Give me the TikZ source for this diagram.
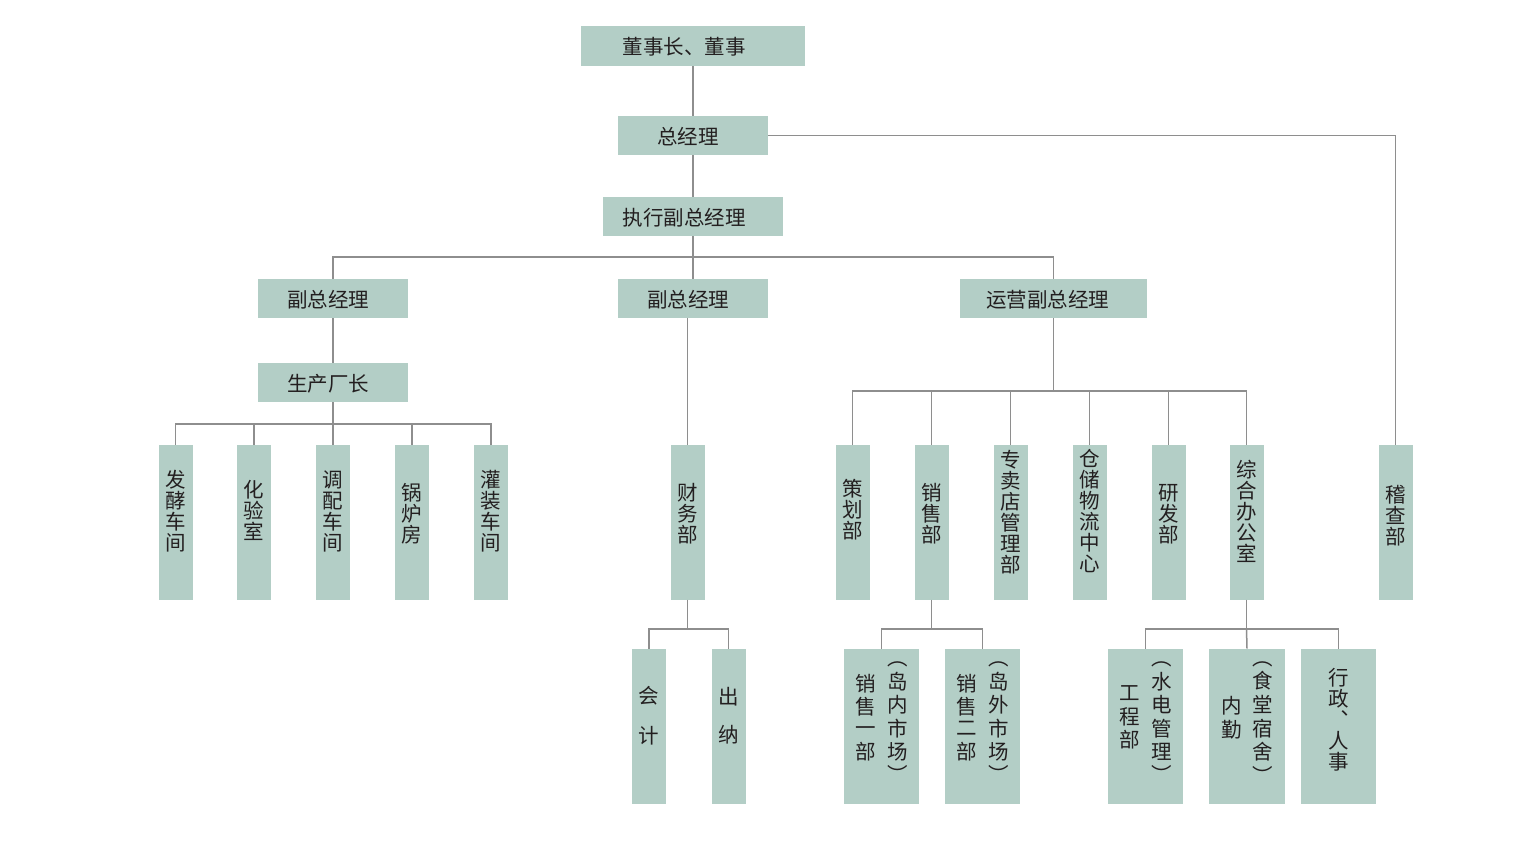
\documentclass[tikz,border=0pt]{standalone}
\usepackage{fontspec}
\newfontfamily\cjk{Noto Sans CJK SC}
\usetikzlibrary{calc}
\definecolor{boxc}{HTML}{B3CEC6}
\definecolor{linec}{HTML}{8E8E8E}
\definecolor{txtc}{HTML}{231F20}
\newcommand\vcolumn[1]{\begin{tabular}{@{}c@{}}#1\end{tabular}}
\begin{document}
\begin{tikzpicture}[x=1pt,y=-1pt,
  box/.style={fill=boxc,draw=none,inner sep=0pt,outer sep=0pt},
  hb/.style={box,minimum width=150pt,minimum height=39pt},
  vb/.style={box,minimum width=34pt,minimum height=155pt},
  wb/.style={box,minimum width=75pt,minimum height=155pt},
  lbl/.style={font=\cjk\fontsize{20.5}{21}\selectfont,text=txtc,inner sep=0pt,align=center},
  conn/.style={draw=linec,line width=1.5pt}]
\useasboundingbox[fill=white] (0,0) rectangle (1526,857);
% top boxes
\node[box,minimum width=224pt,minimum height=40pt] (ds) at (693,46) {};
\node[hb] (zjl) at (693,135.5) {};
\node[hb,minimum width=180pt] (zx) at (693,216.5) {};
\node[hb] (fz1) at (333,298.5) {};
\node[hb] (fz2) at (693,298.5) {};
\node[hb,minimum width=187pt] (yy) at (1053.5,298.5) {};
\node[hb] (sc) at (333,382.5) {};
% row 1
\node[vb] (fj) at (175.5,522) {};
\node[vb] (hy) at (254,522) {};
\node[vb] (tp) at (333,522) {};
\node[vb] (gl) at (412,522) {};
\node[vb] (gz) at (491,522) {};
\node[vb] (cw) at (687.5,522) {};
\node[vb] (ch) at (852.5,522) {};
\node[vb] (xs) at (931.5,522) {};
\node[vb] (zm) at (1010.5,522) {};
\node[vb] (cc) at (1089.5,522) {};
\node[vb] (yf) at (1168.5,522) {};
\node[vb] (zh) at (1246.5,522) {};
\node[vb] (jc) at (1395.5,522) {};
% row 2
\node[vb] (kj) at (649,726) {};
\node[vb] (cn) at (728.5,726) {};
\node[wb] (xs1) at (881.5,726) {};
\node[wb] (xs2) at (982.5,726) {};
\node[wb] (gc) at (1145.5,726) {};
\node[wb,minimum width=76pt] (nq) at (1247,726) {};
\node[wb] (xz) at (1338.5,726) {};
% labels
\node[lbl] (t-ds) at ($(ds.center)+(-9,1)$) {董事长、董事};
\node[lbl] (t-zjl) at ($(zjl.center)+(-5,1)$) {总经理};
\node[lbl] (t-zx) at ($(zx.center)+(-9,1)$) {执行副总经理};
\node[lbl] (t-fz1) at ($(fz1.center)+(-5,1)$) {副总经理};
\node[lbl] (t-fz2) at ($(fz2.center)+(-5,1)$) {副总经理};
\node[lbl] (t-yy) at ($(yy.center)+(-6,1)$) {运营副总经理};
\node[lbl] (t-sc) at ($(sc.center)+(-5,1)$) {生产厂长};
\node[lbl] (t-fj) at ($(fj.center)+(0,-11)$) {发\\酵\\车\\间};
\node[lbl] (t-hy) at ($(hy.center)+(0,-12)$) {化\\验\\室};
\node[lbl] (t-tp) at ($(tp.center)+(0,-11)$) {调\\配\\车\\间};
\node[lbl] (t-gl) at ($(gl.center)+(0,-8)$) {锅\\炉\\房};
\node[lbl] (t-gz) at ($(gz.center)+(0,-11)$) {灌\\装\\车\\间};
\node[lbl] (t-cw) at ($(cw.center)+(0,-8)$) {财\\务\\部};
\node[lbl] (t-ch) at ($(ch.center)+(0,-12)$) {策\\划\\部};
\node[lbl] (t-xs) at ($(xs.center)+(0,-8)$) {销\\售\\部};
\node[lbl] (t-zm) at ($(zm.center)+(0,-10)$) {专\\卖\\店\\管\\理\\部};
\node[lbl] (t-cc) at ($(cc.center)+(0,-11)$) {仓\\储\\物\\流\\中\\心};
\node[lbl] (t-yf) at ($(yf.center)+(0,-8)$) {研\\发\\部};
\node[lbl] (t-zh) at ($(zh.center)+(0,-11)$) {综\\合\\办\\公\\室};
\node[lbl] (t-jc) at ($(jc.center)+(0,-6)$) {稽\\查\\部};
\node[lbl] (t-kj) at ($(kj.center)+(0,-10)$) {会\\[19pt]计};
\node[lbl] (t-cn) at ($(cn.center)+(0,-10)$) {出\\[17pt]纳};
\node[lbl] (t-xs1) at ($(xs1.center)+(0,-6)$) {\vcolumn{销\\售\\一\\部}\hspace{11pt}\vcolumn{︵\\岛\\内\\市\\场\\︶}};
\node[lbl] (t-xs2) at ($(xs2.center)+(0,-6)$) {\vcolumn{销\\售\\二\\部}\hspace{11pt}\vcolumn{︵\\岛\\外\\市\\场\\︶}};
\node[lbl] (t-gc) at ($(gc.center)+(0,-6)$) {\vcolumn{工\\程\\部}\hspace{11pt}\vcolumn{︵\\水\\电\\管\\理\\︶}};
\node[lbl] (t-nq) at ($(nq.center)+(0,-6)$) {\vcolumn{内\\勤}\hspace{11pt}\vcolumn{︵\\食\\堂\\宿\\舍\\︶}};
\node[lbl] (t-xz) at ($(xz.center)+(0,-6)$) {行\\政\\︑\\人\\事};
% connectors
\draw[conn] (ds.south) -- (zjl.north);
\draw[conn] (zjl.south) -- (zx.north);
\draw[conn] (zjl.east) -| (jc.north);
\coordinate (b1) at (693,257);
\draw[conn] (zx.south) -- (b1) -- (fz2.north);
\draw[conn] (fz1.north) -- (fz1.north |- b1) -- (yy.north |- b1) -- (yy.north);
\draw[conn] (fz1.south) -- (sc.north);
\coordinate (b2) at (333,424);
\draw[conn] (sc.south) -- (b2);
\draw[conn] (fj.north) -- (fj.north |- b2) -- (gz.north |- b2) -- (gz.north);
\foreach \n in {hy,tp,gl} \draw[conn] (\n.north) -- (\n.north |- b2);
\draw[conn] (cw.north) -- (cw.north |- fz2.south);
\coordinate (b3) at (1053.5,391);
\draw[conn] (yy.south) -- (b3);
\draw[conn] (ch.north) -- (ch.north |- b3) -- (zh.north |- b3) -- (zh.north);
\foreach \n in {xs,zm,cc,yf} \draw[conn] (\n.north) -- (\n.north |- b3);
\coordinate (b4) at (687.5,629);
\draw[conn] (cw.south) -- (b4);
\draw[conn] (kj.north) -- (kj.north |- b4) -- (cn.north |- b4) -- (cn.north);
\coordinate (b5) at (931.5,629);
\draw[conn] (xs.south) -- (b5);
\draw[conn] (xs1.north) -- (xs1.north |- b5) -- (xs2.north |- b5) -- (xs2.north);
\coordinate (b6) at (1246.5,629);
\draw[conn] (zh.south) -- (b6);
\draw[conn] (gc.north) -- (gc.north |- b6) -- (xz.north |- b6) -- (xz.north);
\draw[conn] (b6) -- (nq.north);
\end{tikzpicture}
\end{document}
